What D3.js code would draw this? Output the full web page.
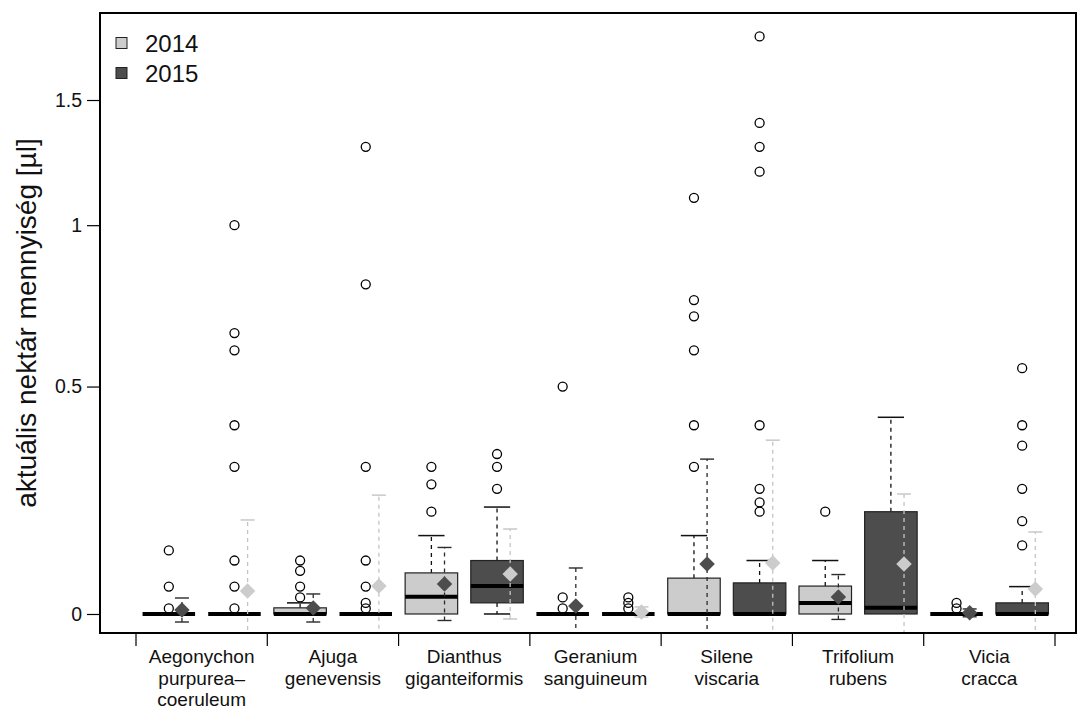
<!DOCTYPE html>
<html>
<head>
<meta charset="utf-8">
<script src="https://cdn.jsdelivr.net/npm/d3@7"></script>
<style>
  body { margin: 0; background: #fff; }
  svg text { font-family: "Liberation Sans", Arial, Helvetica, sans-serif; fill: #111; }
</style>
</head>
<body>
<svg id="chart" width="1080" height="711"></svg>
<script>
// Species (category labels, split into lines)
const speciesLines = [
  ["Aegonychon", "purpurea–", "coeruleum"],
  ["Ajuga", "genevensis"],
  ["Dianthus", "giganteiformis"],
  ["Geranium", "sanguineum"],
  ["Silene", "viscaria"],
  ["Trifolium", "rubens"],
  ["Vicia", "cracca"]
];
const years = ["2014", "2015"];

// Box-plot statistics, nectar volume in µl
const q1_2014          = [0, 0, 0, 0, 0, 0, 0];
const median_2014      = [0, 0, 0.031, 0, 0, 0.02, 0];
const q3_2014          = [0, 0.011, 0.076, 0, 0.066, 0.051, 0];
const whiskerLow_2014  = [0, 0, 0, 0, 0, 0, 0];
const whiskerHigh_2014 = [0, 0.02, 0.15, 0, 0.15, 0.10, 0];
const outliers_2014 = [
  [0.12, 0.05, 0.01],
  [0.10, 0.08, 0.05, 0.03],
  [0.30, 0.26, 0.20],
  [0.5, 0.03, 0.01],
  [1.1, 0.75, 0.7, 0.6, 0.4, 0.3],
  [0.20],
  [0.02, 0.01]
];

const q1_2015          = [0, 0, 0.02, 0, 0, 0, 0];
const median_2015      = [0, 0, 0.051, 0, 0, 0.011, 0];
const q3_2015          = [0, 0, 0.10, 0, 0.057, 0.20, 0.02];
const whiskerLow_2015  = [0, 0, 0, 0, 0, 0, 0];
const whiskerHigh_2015 = [0, 0, 0.21, 0, 0.10, 0.42, 0.05];
const outliers_2015 = [
  [1.0, 0.65, 0.6, 0.4, 0.3, 0.1, 0.05, 0.01],
  [1.3, 0.8, 0.3, 0.1, 0.05, 0.02, 0.01],
  [0.33, 0.30, 0.25],
  [0.03, 0.02, 0.01],
  [1.8, 1.4, 1.3, 1.2, 0.4, 0.25, 0.22, 0.2],
  [],
  [0.55, 0.4, 0.35, 0.25, 0.18, 0.13]
];

// Mean ± SD, computed on log(1 + µl)
const meanLog_2014 = [0.0071, 0.0107, 0.0535, 0.0143, 0.0891, 0.0303, 0.002];
const sdLog_2014   = [0.0214, 0.025, 0.0651, 0.0677, 0.187, 0.040, 0.007];
const meanLog_2015 = [0.041, 0.0499, 0.0713, 0.0036, 0.0909, 0.0891, 0.0446];
const sdLog_2015   = [0.1266, 0.162, 0.0802, 0.009, 0.219, 0.1248, 0.1016];

// Axis ticks (µl)
const yTickValues = [0, 0.5, 1, 1.5];
const yTickLabels = ["0", "0.5", "1", "1.5"];
// Plotted range on the log(1 + µl) axis
const yLimits = [-0.0339, 1.0714];

const yAxisTitle = "aktuális nektár mennyiség [µl]";

// ---------------------------------------------------------------
const stats = {
  "2014": { q1: q1_2014, med: median_2014, q3: q3_2014, lo: whiskerLow_2014, hi: whiskerHigh_2014,
            out: outliers_2014, mean: meanLog_2014, sd: sdLog_2014 },
  "2015": { q1: q1_2015, med: median_2015, q3: q3_2015, lo: whiskerLow_2015, hi: whiskerHigh_2015,
            out: outliers_2015, mean: meanLog_2015, sd: sdLog_2015 }
};
const records = [];
speciesLines.forEach((_, i) => {
  years.forEach(yr => {
    const s = stats[yr];
    records.push({ group: i, year: yr, q1: s.q1[i], med: s.med[i], q3: s.q3[i],
                   lo: s.lo[i], hi: s.hi[i], out: s.out[i], mean: s.mean[i], sd: s.sd[i] });
  });
});

const boxFill  = { "2014": "#cccccc", "2015": "#4d4d4d" };
const meanFill = { "2014": "#4d4d4d", "2015": "#cccccc" };
const errColor = { "2014": "#2b2b2b", "2015": "#c4c4c4" };

const frame = { left: 100, right: 1076, top: 13, bottom: 633 };
const svg = d3.select("#chart");

const y = d3.scaleLinear().domain(yLimits).range([frame.bottom, frame.top]);
const yv = v => y(Math.log1p(v));   // µl -> pixel

const xGroup = d3.scaleBand().domain(d3.range(speciesLines.length)).range([136, 1055]);
const xYear = d3.scaleBand().domain(years).range([0, xGroup.bandwidth()]);
const boxW = xYear.bandwidth() * 0.8;
const meanOffset = xYear.bandwidth() * 0.2;
const cx = d => xGroup(d.group) + xYear(d.year) + xYear.bandwidth() / 2;

svg.append("defs").append("clipPath").attr("id", "plotClip")
  .append("rect")
  .attr("x", frame.left).attr("y", frame.top)
  .attr("width", frame.right - frame.left).attr("height", frame.bottom - frame.top);

const plot = svg.append("g").attr("clip-path", "url(#plotClip)");

// Boxes
const boxes = plot.selectAll("g.box").data(records).join("g").attr("class", "box");

// whiskers (dashed) and staples
boxes.filter(d => d.hi > d.q3).append("line")
  .attr("x1", cx).attr("x2", cx)
  .attr("y1", d => yv(d.q3)).attr("y2", d => yv(d.hi))
  .attr("stroke", "#111").attr("stroke-width", 1.3).attr("stroke-dasharray", "4,4");
boxes.filter(d => d.hi > d.q3).append("line")
  .attr("x1", d => cx(d) - boxW / 4).attr("x2", d => cx(d) + boxW / 4)
  .attr("y1", d => yv(d.hi)).attr("y2", d => yv(d.hi))
  .attr("stroke", "#111").attr("stroke-width", 1.5);
boxes.filter(d => d.lo < d.q1).append("line")
  .attr("x1", cx).attr("x2", cx)
  .attr("y1", d => yv(d.q1)).attr("y2", d => yv(d.lo))
  .attr("stroke", "#111").attr("stroke-width", 1.3).attr("stroke-dasharray", "4,4");
boxes.filter(d => d.lo < d.q1).append("line")
  .attr("x1", d => cx(d) - boxW / 4).attr("x2", d => cx(d) + boxW / 4)
  .attr("y1", d => yv(d.lo)).attr("y2", d => yv(d.lo))
  .attr("stroke", "#111").attr("stroke-width", 1.5);

boxes.append("rect")
  .attr("x", d => cx(d) - boxW / 2)
  .attr("width", boxW)
  .attr("y", d => yv(d.q3))
  .attr("height", d => yv(d.q1) - yv(d.q3))
  .attr("fill", d => boxFill[d.year])
  .attr("stroke", "#222").attr("stroke-width", 1.2);

boxes.append("line")
  .attr("x1", d => cx(d) - boxW / 2).attr("x2", d => cx(d) + boxW / 2)
  .attr("y1", d => yv(d.med)).attr("y2", d => yv(d.med))
  .attr("stroke", "#000").attr("stroke-width", 4);

// Outliers
boxes.selectAll("circle")
  .data(d => d.out.map(v => ({ v, d })))
  .join("circle")
  .attr("cx", o => cx(o.d))
  .attr("cy", o => yv(o.v))
  .attr("r", 4.5)
  .attr("fill", "none").attr("stroke", "#000").attr("stroke-width", 1.3);

// Mean ± SD bars
const errs = plot.selectAll("g.err").data(records).join("g").attr("class", "err");
errs.append("line")
  .attr("x1", d => cx(d) + meanOffset).attr("x2", d => cx(d) + meanOffset)
  .attr("y1", d => y(d.mean - d.sd)).attr("y2", d => y(d.mean + d.sd))
  .attr("stroke", d => errColor[d.year]).attr("stroke-width", 1.3).attr("stroke-dasharray", "4,4");
[-1, 1].forEach(sign => {
  errs.append("line")
    .attr("x1", d => cx(d) + meanOffset - 7).attr("x2", d => cx(d) + meanOffset + 7)
    .attr("y1", d => y(d.mean + sign * d.sd)).attr("y2", d => y(d.mean + sign * d.sd))
    .attr("stroke", d => errColor[d.year]).attr("stroke-width", 1.4);
});

// Mean markers (diamonds)
const diamond = d3.symbol(d3.symbolSquare, 120);
plot.selectAll("path.mean").data(records).join("path")
  .attr("class", "mean")
  .attr("d", diamond)
  .attr("transform", d => `translate(${cx(d) + meanOffset},${y(d.mean)}) rotate(45)`)
  .attr("fill", d => meanFill[d.year]);

// Frame
svg.append("rect")
  .attr("x", frame.left).attr("y", frame.top)
  .attr("width", frame.right - frame.left).attr("height", frame.bottom - frame.top)
  .attr("fill", "none").attr("stroke", "#000").attr("stroke-width", 2);

// Y axis
const yAxis = d3.axisLeft(y)
  .tickValues(yTickValues.map(Math.log1p))
  .tickFormat((d, i) => yTickLabels[i])
  .tickSize(13).tickPadding(5);
const gy = svg.append("g").attr("transform", `translate(${frame.left},0)`).call(yAxis);
gy.select(".domain").remove();
gy.selectAll(".tick line").attr("stroke", "#000").attr("stroke-width", 1.2);
gy.selectAll(".tick text").attr("font-size", 19.5).attr("fill", "#111")
  .style("font-family", '"Liberation Sans", Arial, sans-serif');

// X axis: ticks on group boundaries, labels centred under each group
const bounds = speciesLines.map((_, i) => xGroup(i))
  .concat([xGroup(speciesLines.length - 1) + xGroup.bandwidth()]);
svg.append("g").selectAll("line").data(bounds).join("line")
  .attr("x1", d => d).attr("x2", d => d)
  .attr("y1", frame.bottom).attr("y2", frame.bottom + 13)
  .attr("stroke", "#000").attr("stroke-width", 1.2);

const xl = svg.append("g").selectAll("text").data(speciesLines).join("text")
  .attr("text-anchor", "middle")
  .attr("font-size", 19);
xl.selectAll("tspan").data((d, i) => d.map(t => ({ t, i })))
  .join("tspan")
  .attr("x", o => xGroup(o.i) + xGroup.bandwidth() / 2)
  .attr("y", (o, j) => 663 + j * 21.5)
  .text(o => o.t);

// Y axis title
svg.append("text")
  .attr("transform", `translate(36,${(frame.top + frame.bottom) / 2}) rotate(-90)`)
  .attr("text-anchor", "middle")
  .attr("font-size", 28)
  .text(yAxisTitle);

// Legend
const legend = svg.append("g");
years.forEach((yr, i) => {
  legend.append("rect")
    .attr("x", 116).attr("y", 37.5 + i * 30)
    .attr("width", 11).attr("height", 11)
    .attr("fill", boxFill[yr]).attr("stroke", "#222").attr("stroke-width", 1);
  legend.append("text")
    .attr("x", 145).attr("y", 52 + i * 30)
    .attr("font-size", 24)
    .text(yr);
});
</script>
</body>
</html>
